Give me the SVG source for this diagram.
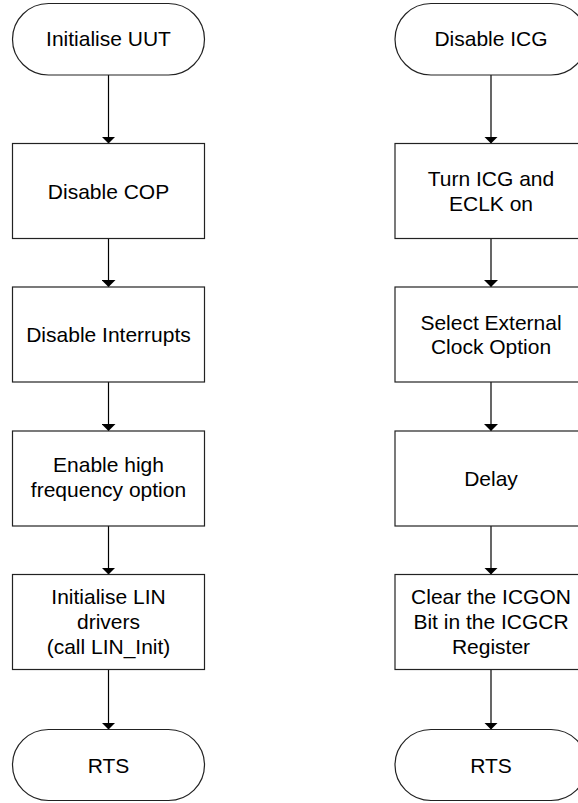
<svg xmlns="http://www.w3.org/2000/svg" width="578" height="803" viewBox="0 0 578 803">
<style>
.n{fill:#fff;stroke:#222;stroke-width:1.2}
.t{font-family:"Liberation Sans",Arial,sans-serif;font-size:21px;fill:#000;text-anchor:middle}
.c{stroke:#000;stroke-width:1.2;fill:none;marker-end:url(#ah)}
</style>
<defs>
<marker id="ah" markerUnits="userSpaceOnUse" markerWidth="7" markerHeight="14" refX="7" refY="7" orient="auto" viewBox="0 0 7 14">
<path d="M0,0 L7,7 L0,14 Z" fill="#000"/>
</marker>
</defs>
<rect width="578" height="803" fill="#fff"/>
<g id="connectors">
<line class="c" x1="108.5" y1="75" x2="108.5" y2="143.5"/>
<line class="c" x1="108.5" y1="238.5" x2="108.5" y2="287"/>
<line class="c" x1="108.5" y1="382" x2="108.5" y2="431"/>
<line class="c" x1="108.5" y1="526" x2="108.5" y2="574.5"/>
<line class="c" x1="108.5" y1="669.5" x2="108.5" y2="729.5"/>
<line class="c" x1="491" y1="75" x2="491" y2="143.5"/>
<line class="c" x1="491" y1="238.5" x2="491" y2="287"/>
<line class="c" x1="491" y1="382" x2="491" y2="431"/>
<line class="c" x1="491" y1="526" x2="491" y2="574.5"/>
<line class="c" x1="491" y1="669.5" x2="491" y2="729.5"/>
</g>
<g id="init-uut">
<rect class="n" x="12.5" y="3.5" width="192" height="71.5" rx="36" ry="35.75"/>
<text class="t" x="108.5" y="46">Initialise UUT</text>
</g>
<g id="disable-cop">
<rect class="n" x="12.5" y="143.5" width="192" height="95"/>
<text class="t" x="108.5" y="198.5">Disable COP</text>
</g>
<g id="disable-interrupts">
<rect class="n" x="12.5" y="287" width="192" height="95"/>
<text class="t" x="108.5" y="342">Disable Interrupts</text>
</g>
<g id="enable-hf">
<rect class="n" x="12.5" y="431" width="192" height="95"/>
<text class="t" x="108.5" y="472">Enable high</text>
<text class="t" x="108.5" y="497">frequency option</text>
</g>
<g id="init-lin">
<rect class="n" x="12.5" y="574.5" width="192" height="95"/>
<text class="t" x="108.5" y="603.5">Initialise LIN</text>
<text class="t" x="108.5" y="628.5">drivers</text>
<text class="t" x="108.5" y="653.5">(call LIN_Init)</text>
</g>
<g id="rts-left">
<rect class="n" x="12.5" y="729.5" width="192" height="71" rx="36" ry="35.5"/>
<text class="t" x="108.5" y="772.5">RTS</text>
</g>
<g id="disable-icg">
<rect class="n" x="395" y="3.5" width="192" height="71.5" rx="36" ry="35.75"/>
<text class="t" x="491" y="46">Disable ICG</text>
</g>
<g id="turn-icg-on">
<rect class="n" x="395" y="143.5" width="192" height="95"/>
<text class="t" x="491" y="185.5">Turn ICG and</text>
<text class="t" x="491" y="210.5">ECLK on</text>
</g>
<g id="select-ext-clock">
<rect class="n" x="395" y="287" width="192" height="95"/>
<text class="t" x="491" y="329.5">Select External</text>
<text class="t" x="491" y="353.5">Clock Option</text>
</g>
<g id="delay">
<rect class="n" x="395" y="431" width="192" height="95"/>
<text class="t" x="491" y="486">Delay</text>
</g>
<g id="clear-icgon">
<rect class="n" x="395" y="574.5" width="192" height="95"/>
<text class="t" x="491" y="603.5">Clear the ICGON</text>
<text class="t" x="491" y="628.5">Bit in the ICGCR</text>
<text class="t" x="491" y="653.5">Register</text>
</g>
<g id="rts-right">
<rect class="n" x="395" y="729.5" width="192" height="71" rx="36" ry="35.5"/>
<text class="t" x="491" y="772.5">RTS</text>
</g>
</svg>
